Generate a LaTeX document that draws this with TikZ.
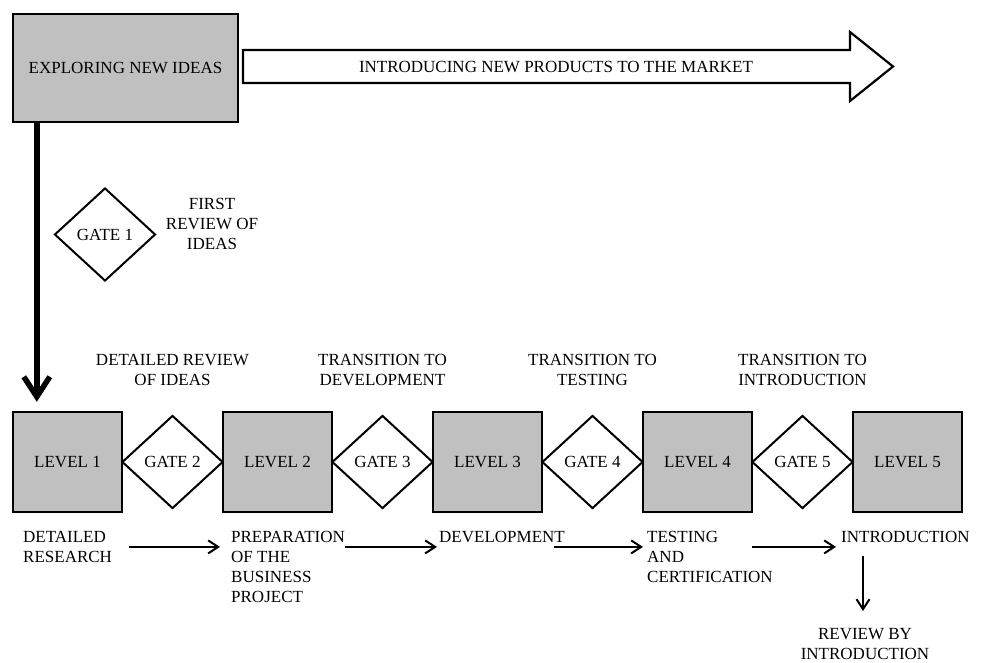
\documentclass[tikz,border=0pt]{standalone}
\usepackage{fontspec}
\setmainfont{Liberation Serif}
\usetikzlibrary{arrows.meta}
\usetikzlibrary{shapes.geometric, math}
\definecolor{boxgray}{RGB}{192,192,192}

\begin{document}
\begin{tikzpicture}[x=1pt,y=-1pt,
  font=\fontsize{17}{20}\selectfont,
  level/.style={draw, line width=2.4pt, fill=boxgray, minimum width=109pt, minimum height=100pt, inner sep=0pt},
  gate/.style={draw, diamond, line width=2pt, fill=white, minimum width=101pt, minimum height=93pt, inner sep=0pt},
  note/.style={align=center, inner sep=0pt},
  result/.style={align=left, inner sep=0pt, anchor=north west},
  flow/.style={-{Straight Barb[length=10pt,width=13pt]}, line width=2pt}
]
\tikzmath{
\levelgap=210;
\xfirst=67.5;
\yrow=462;
\ytrans=370;
\ytext=531;
}
\useasboundingbox (0,0) rectangle (982,662);

%top
\node[level, minimum width=225pt, minimum height=108pt] (explore) at (125.5,68) {EXPLORING NEW IDEAS};
\draw[line width=2.2pt, fill=white] (243,50) -- (850,50) -- (850,32) -- (893,66.5) -- (850,101) -- (850,83) -- (243,83) -- cycle;
\node (market) at (556,66.5) {INTRODUCING NEW PRODUCTS TO THE MARKET};

\node[gate] (gate1) at (105,234.5) {GATE 1};
\node[note] (firstreview) at (212,224) {FIRST\\REVIEW OF\\IDEAS};

%levels
\foreach \i in {1,...,5}{
  \node[level] (level\i) at ({\xfirst+(\i-1)*\levelgap},\yrow) {LEVEL \i};
}

%gates
\foreach \i/\txt in {2/{DETAILED REVIEW\\OF IDEAS}, 3/{TRANSITION TO\\DEVELOPMENT}, 4/{TRANSITION TO\\TESTING}, 5/{TRANSITION TO\\INTRODUCTION}}{
  \node[gate] (gate\i) at ({\xfirst+(\i-1.5)*\levelgap},\yrow) {GATE \i};
  \node[note] (trans\i) at ({\xfirst+(\i-1.5)*\levelgap},\ytrans) {\txt};
}

\draw[-{Straight Barb[length=20pt,width=26pt]}, line width=5.5pt, shorten >=9pt] ([xshift=25pt]explore.south west) -- ([xshift=25pt]level1.north west);

%results
\node[result] (res1) at (23,\ytext) {DETAILED\\RESEARCH};
\node[result] (res2) at (231,\ytext) {PREPARATION\\OF THE\\BUSINESS\\PROJECT};
\node[result] (res3) at (439,\ytext) {DEVELOPMENT};
\node[result] (res4) at (647,\ytext) {TESTING\\AND\\CERTIFICATION};
\node[result] (res5) at (841,\ytext) {INTRODUCTION};
\node[note, anchor=north] (review) at (865,628) {REVIEW BY\\INTRODUCTION};

\draw[flow] ([xshift=17pt]res1.east) -- ([xshift=-11pt]res1.east -| res2.west);
\draw[flow] (res2.east |- res1.east) -- ([xshift=-2pt]res1.east -| res3.west);
\draw[flow] ([xshift=-11pt]res3.east |- res1.east) -- ([xshift=-4pt]res1.east -| res4.west);
\draw[flow] ([xshift=-21pt]res4.east |- res1.east) -- ([xshift=-5pt]res1.east -| res5.west);
\draw[flow, shorten <=13pt, shorten >=17pt] ([xshift=-2pt]review.north |- res5.south) -- ([xshift=-2pt]review.north);
\end{tikzpicture}
\end{document}
